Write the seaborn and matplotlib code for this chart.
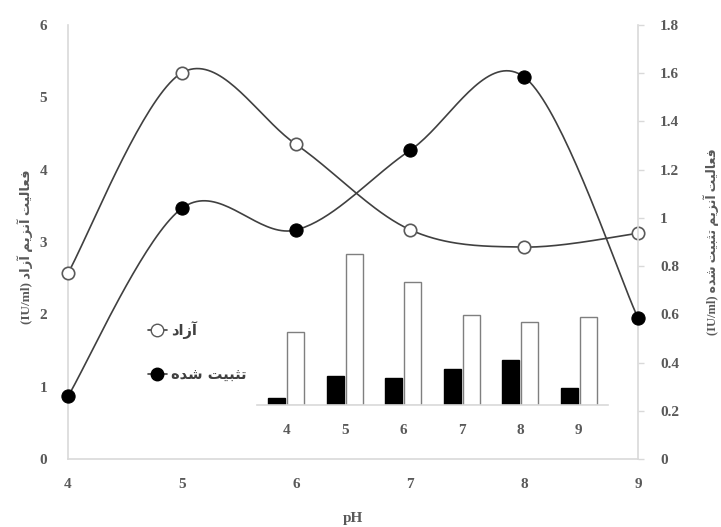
import numpy as np
import pandas as pd
import matplotlib
matplotlib.use("Agg")
import matplotlib.pyplot as plt
import seaborn as sns
from matplotlib.lines import Line2D

# ---- data -------------------------------------------------------------
ph = [4, 5, 6, 7, 8, 9]
free_activity = [2.57, 5.34, 4.35, 3.17, 2.93, 3.12]      # left axis
immob_activity = [0.26, 1.04, 0.95, 1.28, 1.585, 0.585]  # right axis

label_free = "آزاد"
label_immob = "تثبیت شده"
ylabel_left_fa = "فعالیت آنزیم آزاد"
ylabel_right_fa = "فعالیت آنزیم تثبیت شده"
unit = "(IU/ml)"
xlabel = "pH"

left_ticks = [0, 1, 2, 3, 4, 5, 6]
right_ticks = [0, 0.2, 0.4, 0.6, 0.8, 1.0, 1.2, 1.4, 1.6, 1.8]
right_ticklabels = ["0", "0.2", "0.4", "0.6", "0.8", "1", "1.2", "1.4", "1.6", "1.8"]

# ---- Persian shaping (presentation forms, right-to-left) ---------------
FORMS = {
    "\u0627": ("\uFE8D", "\uFE8E", None, None),
    "\u0622": ("\uFE81", "\uFE82", None, None),
    "\u062F": ("\uFEA9", "\uFEAA", None, None),
    "\u0632": ("\uFEAF", "\uFEB0", None, None),
    "\u0641": ("\uFED1", "\uFED2", "\uFED3", "\uFED4"),
    "\u0639": ("\uFEC9", "\uFECA", "\uFECB", "\uFECC"),
    "\u0644": ("\uFEDD", "\uFEDE", "\uFEDF", "\uFEE0"),
    "\u064A": ("\uFEF1", "\uFEF2", "\uFEF3", "\uFEF4"),
    "\u062A": ("\uFE95", "\uFE96", "\uFE97", "\uFE98"),
    "\u0646": ("\uFEE5", "\uFEE6", "\uFEE7", "\uFEE8"),
    "\u0645": ("\uFEE1", "\uFEE2", "\uFEE3", "\uFEE4"),
    "\u062B": ("\uFE99", "\uFE9A", "\uFE9B", "\uFE9C"),
    "\u0628": ("\uFE8F", "\uFE90", "\uFE91", "\uFE92"),
    "\u0634": ("\uFEB5", "\uFEB6", "\uFEB7", "\uFEB8"),
    "\u0647": ("\uFEE9", "\uFEEA", "\uFEEB", "\uFEEC"),
}
RIGHT_JOINING = set("\u0627\u0622\u062F\u0630\u0631\u0632\u0698\u0648")


def shape_fa(text):
    # Farsi yeh joins exactly like Arabic yeh in initial/medial position
    text = text.replace("\u06CC", "\u064A")
    out = []
    for i, ch in enumerate(text):
        if ch not in FORMS:
            out.append(ch)
            continue
        prev = text[i - 1] if i > 0 else ""
        nxt = text[i + 1] if i + 1 < len(text) else ""
        jp = prev in FORMS and prev not in RIGHT_JOINING
        jn = nxt in FORMS and ch not in RIGHT_JOINING
        iso, fin, ini, med = FORMS[ch]
        if jp and jn:
            out.append(med)
        elif jp:
            out.append(fin)
        elif jn:
            out.append(ini)
        else:
            out.append(iso)
    return "".join(out)[::-1]


# ---- style ------------------------------------------------------------
sns.set_theme(style="white")
plt.rcParams["font.family"] = ["Liberation Serif", "DejaVu Sans"]
plt.rcParams["font.weight"] = "bold"

GREY_TXT = "#595959"
SPINE = "#d9d9d9"
LINE = "#404040"

fig = plt.figure(figsize=(7.21, 5.27), dpi=100)
ax = fig.add_axes([68 / 721, 1 - 459 / 527, 570 / 721, 434 / 527])
ax2 = ax.twinx()


def smooth(x, y, n=40):
    """Cardinal (Catmull-Rom style) Bezier smoothing through the points."""
    P = np.column_stack([x, y]).astype(float)
    Pext = np.vstack([P[0], P, P[-1]])
    xs, ys = [], []
    t = np.linspace(0, 1, n)[:, None]
    for i in range(len(P) - 1):
        p0, p1, p2, p3 = Pext[i], Pext[i + 1], Pext[i + 2], Pext[i + 3]
        b1 = p1 + (p2 - p0) / 6.0
        b2 = p2 - (p3 - p1) / 6.0
        seg = ((1 - t) ** 3) * p1 + 3 * ((1 - t) ** 2) * t * b1 + 3 * (1 - t) * t ** 2 * b2 + t ** 3 * p2
        xs.append(seg[:, 0])
        ys.append(seg[:, 1])
    return np.concatenate(xs), np.concatenate(ys)


fx, fy = smooth(ph, free_activity)
ix, iy = smooth(ph, immob_activity)

sns.lineplot(x=fx, y=fy, ax=ax, color=LINE, lw=1.2, sort=False, estimator=None, zorder=2)
sns.scatterplot(x=ph, y=free_activity, ax=ax, marker="o", s=80, color="white",
                edgecolor="#595959", linewidth=1.2, zorder=3, clip_on=False)

sns.lineplot(x=ix, y=iy, ax=ax2, color=LINE, lw=1.2, sort=False, estimator=None, zorder=2)
sns.scatterplot(x=ph, y=immob_activity, ax=ax2, marker="o", s=90, color="black",
                edgecolor="black", linewidth=0.8, zorder=3, clip_on=False)

ax.set_xlim(4, 9)
ax.set_ylim(0, 6)
ax2.set_ylim(0, 1.8)
ax.set_xticks(ph)
ax.set_yticks(left_ticks)
ax2.set_yticks(right_ticks)
ax2.set_yticklabels(right_ticklabels)

for a in (ax, ax2):
    for s in a.spines.values():
        s.set_visible(False)
ax.spines["left"].set_visible(True)
ax.spines["bottom"].set_visible(True)
ax2.spines["right"].set_visible(True)
for s in (ax.spines["left"], ax.spines["bottom"], ax2.spines["right"]):
    s.set_color(SPINE)
    s.set_linewidth(1.2)

ax.tick_params(axis="y", length=0, pad=15, labelsize=11, labelcolor=GREY_TXT)
ax.tick_params(axis="x", length=0, pad=14, labelsize=11, labelcolor=GREY_TXT)
ax2.tick_params(axis="y", length=4, width=1, color=SPINE, pad=12, labelsize=11,
                labelcolor=GREY_TXT, direction="out")
for lab in ax.get_xticklabels() + ax.get_yticklabels() + ax2.get_yticklabels():
    lab.set_fontweight("bold")

ax.set_xlabel(xlabel, fontsize=11, fontweight="bold", color=GREY_TXT)
ax.xaxis.set_label_coords(0.5, -0.122)
ax.set_ylabel(unit + " " + shape_fa(ylabel_left_fa), fontsize=9.5, fontweight="bold",
              color=GREY_TXT, rotation=90)
ax.yaxis.set_label_coords(-0.062, 0.49)
ax2.set_ylabel(unit + " " + shape_fa(ylabel_right_fa), fontsize=9, fontweight="bold",
               color=GREY_TXT, rotation=90)
ax2.yaxis.set_label_coords(1.115, 0.5)

# ---- legend -----------------------------------------------------------
handles = [
    Line2D([], [], color=LINE, lw=1.2, marker="o", markersize=9,
           markerfacecolor="white", markeredgecolor="#595959"),
    Line2D([], [], color=LINE, lw=1.2, marker="o", markersize=9,
           markerfacecolor="black", markeredgecolor="black"),
]
leg = ax2.legend(handles, [shape_fa(label_free), shape_fa(label_immob)],
                 loc="upper left", bbox_to_anchor=(148 / 721, 1 - 321 / 527),
                 bbox_transform=fig.transFigure, frameon=False, handlelength=1.3,
                 handletextpad=0.3, labelspacing=1.95, borderpad=0, borderaxespad=0,
                 prop=dict(family="DejaVu Sans", weight="bold", size=10.5))
for t in leg.get_texts():
    t.set_color("#404040")

# ---- inset bar chart --------------------------------------------------
bars = pd.DataFrame({
    "pH": ph * 2,
    "activity": immob_activity + free_activity,
    "form": [label_immob] * len(ph) + [label_free] * len(ph),
})
axi = fig.add_axes([257 / 721, 1 - 405 / 527, 351 / 721, 170 / 527])
axi.set_facecolor("none")
sns.barplot(data=bars, x="pH", y="activity", hue="form", ax=axi,
            palette=["black", "white"], width=0.64, gap=0.1,
            edgecolor="#7f7f7f", linewidth=1.0, legend=False)
for p in axi.patches[:len(ph)]:
    p.set_edgecolor("black")
axi.set_ylim(0, 6)
axi.set_xlim(-0.5, len(ph) - 0.5)
for s in axi.spines.values():
    s.set_visible(False)
axi.spines["bottom"].set_visible(True)
axi.spines["bottom"].set_color(SPINE)
axi.spines["bottom"].set_linewidth(1.2)
axi.set_yticks([])
axi.set_xlabel("")
axi.set_ylabel("")
axi.tick_params(axis="x", length=0, pad=14, labelsize=11, labelcolor=GREY_TXT)
for lab in axi.get_xticklabels():
    lab.set_fontweight("bold")

fig.savefig("out.png", dpi=100)
